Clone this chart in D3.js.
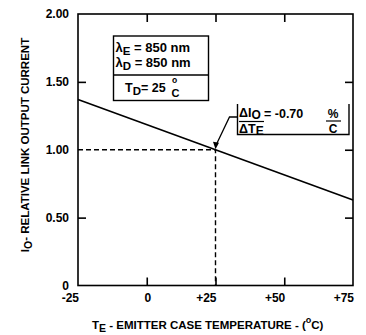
<!DOCTYPE html>
<html>
<head>
<meta charset="utf-8">
<script src="https://cdn.jsdelivr.net/npm/d3@7/dist/d3.min.js"></script>
<style>
  html, body { margin: 0; padding: 0; background: #fff; }
  svg { display: block; }
  text { font-family: "Liberation Sans", Arial, Helvetica, sans-serif; font-weight: bold; fill: #000; }
</style>
</head>
<body>
<script>
// Emitter case temperature (°C) and relative link output current
const temps = [-25, 75];
const current = [1.37, 0.63];
const refPoint = [25, 1.0];
const xTicks = [-25, 0, 25, 50, 75];
const xTickLabels = ["-25", "0", "+25", "+50", "+75"];
const yTicks = [0, 0.5, 1.0, 1.5, 2.0];
const yTickLabels = ["0", "0.50", "1.00", "1.50", "2.00"];
const slopeLabel = "-0.70";

const W = 366, H = 335;
const svg = d3.select("body").append("svg").attr("width", W).attr("height", H);

const x = d3.scaleLinear().domain([-25, 75]).range([78, 353]);
const y = d3.scaleLinear().domain([0, 2]).range([285.5, 14]);

// inner tick marks on all four sides
const tickLen = 8;
svg.append("g").attr("transform", `translate(0,${y(0)})`)
  .call(d3.axisBottom(x).tickValues([0, 25, 50]).tickSizeInner(-tickLen).tickSizeOuter(0).tickFormat(""));
svg.append("g").attr("transform", `translate(0,${y(2)})`)
  .call(d3.axisTop(x).tickValues([0, 25, 50]).tickSizeInner(-tickLen).tickSizeOuter(0).tickFormat(""));
svg.append("g").attr("transform", `translate(${x(-25)},0)`)
  .call(d3.axisLeft(y).tickValues([0.5, 1.5]).tickSizeInner(-tickLen).tickSizeOuter(0).tickFormat(""));
svg.append("g").attr("transform", `translate(${x(75)},0)`)
  .call(d3.axisRight(y).tickValues([0.5, 1.0, 1.5]).tickSizeInner(-tickLen).tickSizeOuter(0).tickFormat(""));
svg.selectAll(".domain").remove();
svg.selectAll(".tick line").attr("stroke", "#000").attr("stroke-width", 1.6);

// plot frame
svg.append("rect")
  .attr("x", x(-25)).attr("y", y(2))
  .attr("width", x(75) - x(-25)).attr("height", y(0) - y(2))
  .attr("fill", "none").attr("stroke", "#000").attr("stroke-width", 1.6);

// tick labels
svg.append("g").selectAll("text").data(xTicks).join("text")
  .attr("x", d => x(d) + 1)
  .attr("y", 302)
  .attr("text-anchor", (d, i) => i === 1 ? "middle" : "end")
  .attr("font-size", 12)
  .text((d, i) => xTickLabels[i]);

svg.append("g").selectAll("text").data(yTicks).join("text")
  .attr("x", 69)
  .attr("y", d => y(d) + 4)
  .attr("text-anchor", "end")
  .attr("font-size", 12)
  .text((d, i) => yTickLabels[i]);

// reference dashed lines at the 25 °C point
svg.append("path")
  .attr("d", d3.line()([[x(-25), y(refPoint[1])], [x(refPoint[0]), y(refPoint[1])], [x(refPoint[0]), y(0)]]))
  .attr("fill", "none").attr("stroke", "#000").attr("stroke-width", 1.4)
  .attr("stroke-dasharray", "5,3");

// output current line
svg.append("path")
  .attr("d", d3.line().x(d => x(d[0])).y(d => y(d[1]))(temps.map((t, i) => [t, current[i]])))
  .attr("fill", "none").attr("stroke", "#000").attr("stroke-width", 1.6);

// condition box
const box = svg.append("g");
box.append("rect").attr("x", 113.5).attr("y", 36).attr("width", 95).attr("height", 64.5)
  .attr("fill", "#fff").attr("stroke", "#000").attr("stroke-width", 1.4);
box.append("line").attr("x1", 113.5).attr("x2", 208.5).attr("y1", 75).attr("y2", 75)
  .attr("stroke", "#000").attr("stroke-width", 1.4);
const l1 = box.append("text").attr("x", 115.5).attr("y", 52).attr("font-size", 13);
l1.append("tspan").text("λ");
l1.append("tspan").attr("dy", 3).attr("font-size", 11.5).text("E");
l1.append("tspan").attr("dy", -3).text(" = 850 nm");
const l2 = box.append("text").attr("x", 115.5).attr("y", 67).attr("font-size", 13);
l2.append("tspan").text("λ");
l2.append("tspan").attr("dy", 3).attr("font-size", 11.5).text("D");
l2.append("tspan").attr("dy", -3).text(" = 850 nm");
const l3 = box.append("text").attr("x", 125).attr("y", 92).attr("font-size", 12.5);
l3.append("tspan").text("T");
l3.append("tspan").attr("dy", 3).attr("font-size", 11.5).text("D");
l3.append("tspan").attr("dy", -3).text("= 25 ");
box.append("text").attr("x", 172).attr("y", 83).attr("font-size", 8.5).text("o");
box.append("text").attr("x", 171.5).attr("y", 97).attr("font-size", 11).text("C");

// slope annotation box
const sb = svg.append("g");
sb.append("path")
  .attr("d", "M237.5,104 V134.5 H349 V104")
  .attr("fill", "none").attr("stroke", "#000").attr("stroke-width", 1.4);
const n1 = sb.append("text").attr("x", 239).attr("y", 116.5).attr("font-size", 12.5);
n1.append("tspan").text("ΔI");
n1.append("tspan").attr("dy", 2.5).attr("font-size", 12).text("O");
sb.append("line").attr("x1", 239).attr("x2", 264).attr("y1", 121.5).attr("y2", 121.5)
  .attr("stroke", "#000").attr("stroke-width", 1.2);
const d1 = sb.append("text").attr("x", 239).attr("y", 132.5).attr("font-size", 12.5);
d1.append("tspan").text("ΔT");
d1.append("tspan").attr("dy", 2).attr("font-size", 12).text("E");
sb.append("text").attr("x", 264).attr("y", 118).attr("font-size", 12.5).text("= " + slopeLabel);
sb.append("text").attr("x", 333).attr("y", 118).attr("text-anchor", "middle").attr("font-size", 12).text("%");
sb.append("line").attr("x1", 326).attr("x2", 341).attr("y1", 121).attr("y2", 121)
  .attr("stroke", "#000").attr("stroke-width", 1.2);
sb.append("text").attr("x", 333).attr("y", 132.5).attr("text-anchor", "middle").attr("font-size", 12).text("C");

// leader arrow to the 25 °C point
const px = x(refPoint[0]), py = y(refPoint[1]);
svg.append("path")
  .attr("d", `M237.5,117 H229.5 L${px + 1.2},${py - 6}`)
  .attr("fill", "none").attr("stroke", "#000").attr("stroke-width", 1.3);
svg.append("path")
  .attr("d", `M${px},${py - 0.5} L${px - 2.5},${py - 8} L${px + 3.5},${py - 7} Z`)
  .attr("fill", "#000");

// axis titles
const xt = svg.append("text").attr("x", 92).attr("y", 329).attr("font-size", 11.5).attr("font-weight", "normal");
xt.append("tspan").text("T");
xt.append("tspan").attr("dy", 3).attr("font-size", 10.5).text("E");
xt.append("tspan").attr("dy", -3).text(" - EMITTER CASE TEMPERATURE -  (");
xt.append("tspan").attr("dy", -6).attr("font-size", 9).text("o");
xt.append("tspan").attr("dy", 6).text("C)");

const yt = svg.append("text")
  .attr("transform", "translate(29,145) rotate(-90)")
  .attr("text-anchor", "middle").attr("font-size", 11.5).attr("font-weight", "normal");
yt.append("tspan").text("I");
yt.append("tspan").attr("dy", 3).attr("font-size", 10.5).text("O");
yt.append("tspan").attr("dy", -3).text("- RELATIVE LINK OUTPUT CURRENT");
</script>
</body>
</html>
